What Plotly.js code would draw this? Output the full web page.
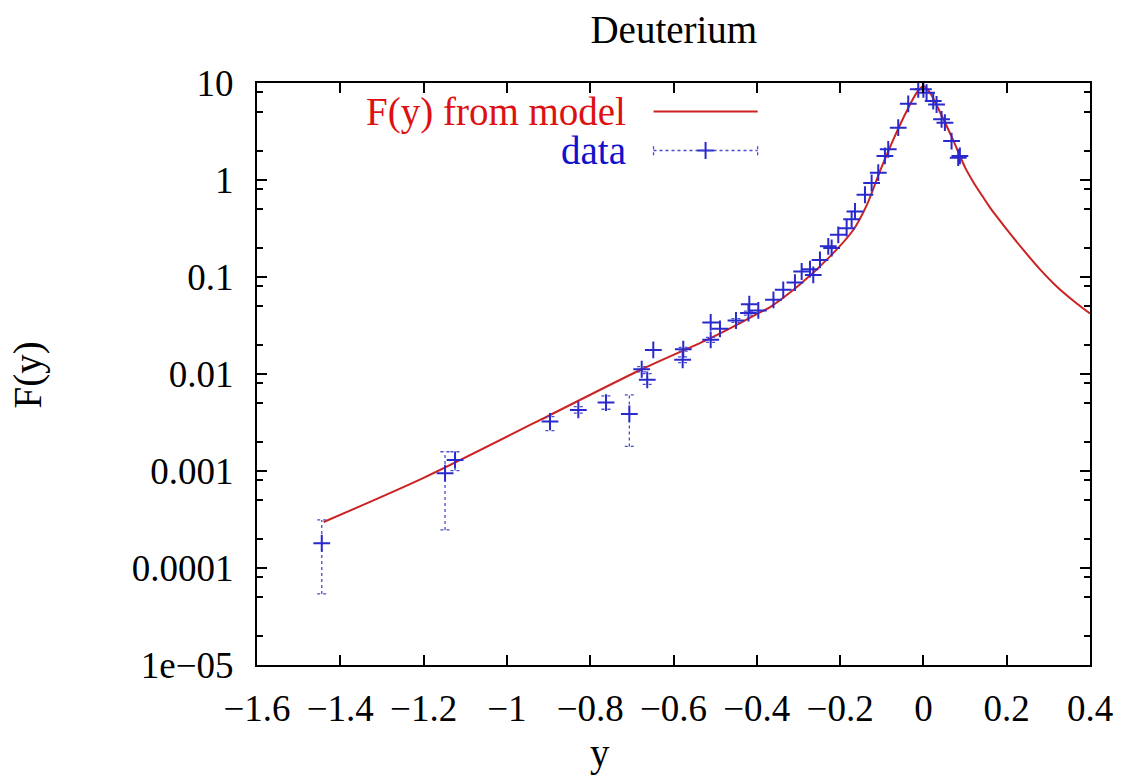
<!DOCTYPE html>
<html>
<head>
<meta charset="utf-8">
<script src="https://cdn.plot.ly/plotly-3.0.1.min.js"></script>
<style>html,body{margin:0;padding:0;background:#fff;}#chart{width:1123px;height:780px;}</style>
</head>
<body>
<div id="chart"></div>
<script>
// ---- Model curve F(y) ----
var modelY = [-1.44, -1.2, -0.92, -0.68, -0.52, -0.44, -0.40, -0.368, -0.296, -0.224, -0.168, -0.136, -0.104, -0.072, -0.04, -0.016, 0.0, 0.016, 0.04, 0.072, 0.10, 0.12, 0.14, 0.16, 0.18, 0.20, 0.24, 0.28, 0.32, 0.36, 0.40];
var modelF = [2.98e-4, 8.5e-4, 3.36e-3, 0.0110, 0.0225, 0.0335, 0.0415, 0.049, 0.084, 0.163, 0.307, 0.55, 1.24, 2.62, 5.14, 7.94, 9.3, 7.9, 5.0, 2.55, 1.35, 0.95, 0.70, 0.52, 0.40, 0.31, 0.19, 0.12, 0.08, 0.057, 0.042];

// ---- Data points ----
var dataY = [-1.4445, -1.1485, -1.1245, -0.8965, -0.8285, -0.762, -0.706, -0.6763, -0.663, -0.6485, -0.5765, -0.578, -0.5107, -0.5107, -0.4884, -0.450, -0.418, -0.420, -0.3964, -0.360, -0.3365, -0.3084, -0.2923, -0.2723, -0.2644, -0.2483, -0.2284, -0.2203, -0.2044, -0.1843, -0.1723, -0.1643, -0.1403, -0.1243, -0.1084, -0.0924, -0.0844, -0.0604, -0.0364, -0.0124, 0.0, 0.0076, 0.0236, 0.0316, 0.0436, 0.0516, 0.0676, 0.0836, 0.0876];
var dataF = [1.80e-4, 9.5e-4, 1.30e-3, 3.24e-3, 4.26e-3, 5.08e-3, 3.88e-3, 0.0112, 8.7e-3, 0.0177, 0.0180, 0.0140, 0.034, 0.0225, 0.0292, 0.0356, 0.0525, 0.0425, 0.0452, 0.0582, 0.0738, 0.0877, 0.114, 0.1205, 0.105, 0.150, 0.207, 0.199, 0.272, 0.319, 0.395, 0.474, 0.705, 0.931, 1.19, 1.77, 2.07, 3.46, 6.1, 8.6, 8.6, 7.94, 6.52, 6.0, 4.22, 3.9, 2.52, 1.70, 1.77];
var dataLo = [5.4e-5, 2.47e-4, 1.01e-3, 2.61e-3, 3.95e-3, 4.33e-3, 1.79e-3, 0.0105, 7.8e-3, null, 0.0172, 0.0131, null, 0.0212, null, 0.0340, null, 0.0405, null, null, null, null, null, null, null, null, null, null, null, null, null, null, null, null, null, null, null, null, null, null, null, null, null, null, null, null, null, null, null];
var dataHi = [3.13e-4, 1.58e-3, 1.58e-3, 3.64e-3, 4.6e-3, 5.96e-3, 6.09e-3, 0.0119, 0.0101, null, 0.0188, 0.0150, null, 0.0238, null, 0.0372, null, 0.0445, null, null, null, null, null, null, null, null, null, null, null, null, null, null, null, null, null, null, null, null, null, null, null, null, null, null, null, null, null, null, null];

// ---- Axis ticks ----
var xTickVals = [-1.6, -1.4, -1.2, -1.0, -0.8, -0.6, -0.4, -0.2, 0, 0.2, 0.4];
var xTickText = ['\u22121.6', '\u22121.4', '\u22121.2', '\u22121', '\u22120.8', '\u22120.6', '\u22120.4', '\u22120.2', '0', '0.2', '0.4'];
var yTickVals = [1e-5, 1e-4, 1e-3, 1e-2, 1e-1, 1, 10];
var yTickText = ['1e\u221205', '0.0001', '0.001', '0.01', '0.1', '1', '10'];
var yMinorMult = [2, 5, 8];

// build minor tick values from decades
var yMinorVals = [];
yTickVals.forEach(function (d) { if (d < 10) yMinorMult.forEach(function (m) { yMinorVals.push(d * m); }); });

// dashed error bars built from data arrays
var capHalf = 0.011;
var ebX = [], ebY = [];
for (var i = 0; i < dataY.length; i++) {
  if (dataLo[i] === null) continue;
  var x = dataY[i];
  ebX.push(x, x, null, x - capHalf, x + capHalf, null, x - capHalf, x + capHalf, null);
  ebY.push(dataLo[i], dataHi[i], null, dataHi[i], dataHi[i], null, dataLo[i], dataLo[i], null);
}

var RED = '#cc2222', BLUE = '#2a2acc', EB = '#4a4ad0';
var FONT = '"Liberation Serif", "Times New Roman", serif';
var TICKSIZE = 37, TXT = 39;

var traces = [
  { x: modelY, y: modelF, type: 'scatter', mode: 'lines', line: { color: RED, width: 2, shape: 'spline', smoothing: 0.8 }, showlegend: false, hoverinfo: 'skip' },
  { x: ebX, y: ebY, type: 'scatter', mode: 'lines', line: { color: EB, width: 1.3, dash: '3px,3px' }, showlegend: false, hoverinfo: 'skip', connectgaps: false },
  { x: dataY, y: dataF, type: 'scatter', mode: 'markers', marker: { symbol: 'cross-thin', size: 12, line: { color: BLUE, width: 2 }, color: BLUE }, showlegend: false },
  // legend sample marker on overlay axes
  { x: [0.5385], y: [0.884], xaxis: 'x2', yaxis: 'y2', type: 'scatter', mode: 'markers', marker: { symbol: 'cross-thin', size: 12, line: { color: BLUE, width: 2 } }, showlegend: false, hoverinfo: 'skip' }
];

var layout = {
  width: 1123, height: 780,
  margin: { l: 257, r: 33, t: 83, b: 115 },
  paper_bgcolor: '#ffffff', plot_bgcolor: '#ffffff',
  font: { family: FONT, color: '#000', size: TXT },
  showlegend: false,
  title: { text: 'Deuterium', font: { family: FONT, size: TXT, color: '#000' }, x: 0.6, xanchor: 'center', y: 0.963, yanchor: 'middle' },
  xaxis: {
    range: [-1.6, 0.4], tickmode: 'array', tickvals: xTickVals, ticktext: xTickText,
    ticks: 'inside', ticklen: 10, tickwidth: 2, tickcolor: '#000',
    showline: true, linecolor: '#000', linewidth: 2, mirror: 'ticks',
    showgrid: false, zeroline: false,
    tickfont: { family: FONT, size: TICKSIZE, color: '#000' }, ticklabelstandoff: 10
  },
  yaxis: {
    type: 'log', range: [-5, 1], tickmode: 'array', tickvals: yTickVals, ticktext: yTickText,
    ticks: 'inside', ticklen: 10, tickwidth: 2, tickcolor: '#000',
    minor: { tickmode: 'array', tickvals: yMinorVals, ticks: 'inside', ticklen: 6, tickwidth: 2, tickcolor: '#000', showgrid: false },
    showline: true, linecolor: '#000', linewidth: 2, mirror: 'ticks',
    showgrid: false, zeroline: false,
    tickfont: { family: FONT, size: TICKSIZE, color: '#000' }, ticklabelstandoff: 14
  },
  xaxis2: { overlaying: 'x', range: [0, 1], visible: false, fixedrange: true },
  yaxis2: { overlaying: 'y', range: [0, 1], visible: false, fixedrange: true },
  annotations: [
    // axis titles
    { xref: 'paper', yref: 'paper', x: 0.412, y: -0.152, xanchor: 'center', yanchor: 'middle', text: 'y', showarrow: false, font: { family: FONT, size: TXT, color: '#000' } },
    { xref: 'paper', yref: 'paper', x: -0.275, y: 0.499, xanchor: 'center', yanchor: 'middle', textangle: -90, text: 'F(y)', showarrow: false, font: { family: FONT, size: TXT, color: '#000' } },
    // key
    { xref: 'paper', yref: 'paper', x: 0.4457, y: 0.951, xanchor: 'right', yanchor: 'middle', text: 'F(y) from model', showarrow: false, font: { family: FONT, size: TXT, color: '#dd1111' } },
    { xref: 'paper', yref: 'paper', x: 0.4457, y: 0.884, xanchor: 'right', yanchor: 'middle', text: 'data', showarrow: false, font: { family: FONT, size: TXT, color: '#1111cc' } }
  ],
  shapes: [
    { type: 'line', xref: 'paper', yref: 'paper', x0: 0.476, x1: 0.601, y0: 0.951, y1: 0.951, line: { color: RED, width: 2 } },
    { type: 'line', xref: 'paper', yref: 'paper', x0: 0.476, x1: 0.601, y0: 0.884, y1: 0.884, line: { color: EB, width: 1.3, dash: '3px,3px' } },
    { type: 'line', xref: 'paper', yref: 'paper', x0: 0.476, x1: 0.476, y0: 0.876, y1: 0.892, line: { color: EB, width: 1.3, dash: '3px,3px' } },
    { type: 'line', xref: 'paper', yref: 'paper', x0: 0.601, x1: 0.601, y0: 0.876, y1: 0.892, line: { color: EB, width: 1.3, dash: '3px,3px' } }
  ]
};

Plotly.newPlot('chart', traces, layout, { staticPlot: true, displayModeBar: false });
</script>
</body>
</html>
